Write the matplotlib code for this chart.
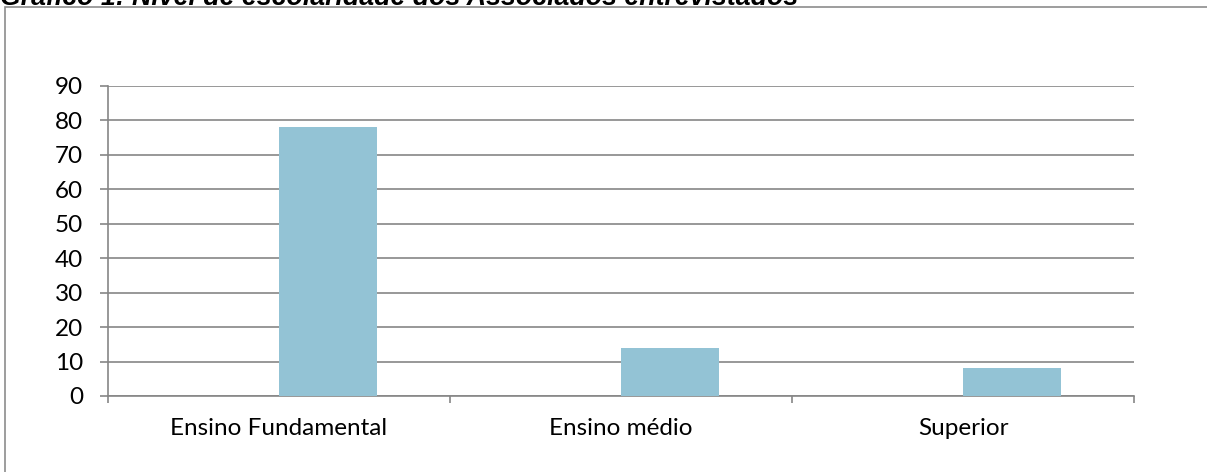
import matplotlib
matplotlib.use("Agg")
import matplotlib.pyplot as plt
from matplotlib.patches import Rectangle

categories = ["Ensino Fundamental", "Ensino médio", "Superior"]
values = [78, 14, 8]
yticks = [0, 10, 20, 30, 40, 50, 60, 70, 80, 90]
title = "Gráfico 1: Nível de escolaridade dos Associados entrevistados"

W, H = 1207, 472
fig = plt.figure(figsize=(W / 100, H / 100), dpi=100)
plt.rcParams['font.family'] = ['Lato', 'DejaVu Sans']

# outer frame (partially outside the image)
fig.patches.append(Rectangle((5 / W, -0.1), 1.2, 1.1 - 7 / H, transform=fig.transFigure,
                             fill=False, edgecolor='#8c8c8c', lw=1.2, clip_on=False))

fig.text(0.0, 1 - 5 / H, title, fontsize=19.3, fontweight='bold', fontstyle='italic',
         family=['Liberation Sans'], va='baseline', ha='left')

ax = fig.add_axes([108 / W, 1 - 396 / H, (1134 - 108) / W, (396 - 86) / H])
gray = '#868686'
xs = list(range(len(categories)))
ax.bar(xs, values, width=0.286, align='edge', color='#93C3D5', zorder=3)
ax.set_xlim(-0.5, len(categories) - 0.5)
ax.set_ylim(0, 90)
ax.set_yticks(yticks)
ax.set_yticklabels([str(v) for v in yticks])
ax.yaxis.grid(True, color=gray, lw=1.2, zorder=0)
ax.set_axisbelow(True)
for s in ['top', 'right']:
    ax.spines[s].set_visible(False)
for s in ['left', 'bottom']:
    ax.spines[s].set_color(gray)
    ax.spines[s].set_linewidth(1.2)

# category boundary ticks
ax.set_xticks([i - 0.5 for i in range(len(categories) + 1)])
ax.set_xticklabels([])
ax.set_xticks(xs, minor=True)
ax.set_xticklabels(categories, minor=True)
ax.tick_params(axis='x', which='major', length=5, width=1.2, color=gray, direction='out')
ax.tick_params(axis='x', which='minor', length=0, pad=16, labelsize=17.5)
ax.tick_params(axis='y', length=5.8, width=1.2, color=gray, direction='out', labelsize=17.5, pad=12)

fig.savefig("out.png", dpi=100)
